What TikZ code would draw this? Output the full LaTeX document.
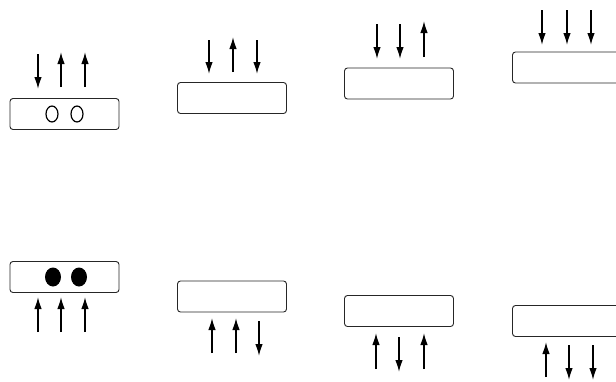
\documentclass[tikz,border=0pt]{standalone}
\usetikzlibrary{arrows.meta,shapes.geometric}
\begin{document}
\begin{tikzpicture}[x=1pt,y=-1pt,
  panel/.style={draw=black!85,line width=0.9pt,rounded corners=3pt,minimum width=109pt,minimum height=31pt,inner sep=0pt,fill=white},
  flow/.style={line width=1.4pt,-{Latex[length=12pt,width=7.5pt]}},
  hole/.style={draw,line width=1.2pt,ellipse,minimum width=12pt,minimum height=16pt,inner sep=0pt},
  dot/.style={fill,ellipse,minimum width=16pt,minimum height=19pt,inner sep=0pt}]
\useasboundingbox (0,0) rectangle (616,381);
\clip (0,0) rectangle (616,381);
% top row boxes
\node[panel] (b1) at (64.5,114) {};
\node[panel] (b2) at (232,98) {};
\node[panel] (b3) at (399,83.5) {};
\node[panel] (b4) at (567,67.5) {};
% bottom row boxes
\node[panel] (b5) at (64.5,277) {};
\node[panel] (b6) at (232,296.5) {};
\node[panel] (b7) at (399,311) {};
\node[panel] (b8) at (567,321) {};
% circles
\node[hole] (h1) at (52,114) {};
\node[hole] (h2) at (77,114) {};
\node[dot] (d1) at (53,277) {};
\node[dot] (d2) at (79,277) {};
% arrow end coordinates, top row
\coordinate (a1t) at (38,54);  \coordinate (a1b) at (38,89);
\coordinate (a2t) at (61,52);  \coordinate (a2b) at (61,87);
\coordinate (a3t) at (85,52);  \coordinate (a3b) at (85,87);
\coordinate (a4t) at (209,40); \coordinate (a4b) at (209,74);
\coordinate (a5t) at (233,37); \coordinate (a5b) at (233,72);
\coordinate (a6t) at (257,40); \coordinate (a6b) at (257,74);
\coordinate (a7t) at (377,24); \coordinate (a7b) at (377,59);
\coordinate (a8t) at (400,24); \coordinate (a8b) at (400,59);
\coordinate (a9t) at (424,21); \coordinate (a9b) at (424,57);
\coordinate (a10t) at (542,10); \coordinate (a10b) at (542,45);
\coordinate (a11t) at (567,10); \coordinate (a11b) at (567,45);
\coordinate (a12t) at (591,10); \coordinate (a12b) at (591,45);
\draw[flow] (a1t) -- (a1b);
\draw[flow] (a2b) -- (a2t);
\draw[flow] (a3b) -- (a3t);
\draw[flow] (a4t) -- (a4b);
\draw[flow] (a5b) -- (a5t);
\draw[flow] (a6t) -- (a6b);
\draw[flow] (a7t) -- (a7b);
\draw[flow] (a8t) -- (a8b);
\draw[flow] (a9b) -- (a9t);
\draw[flow] (a10t) -- (a10b);
\draw[flow] (a11t) -- (a11b);
\draw[flow] (a12t) -- (a12b);
% bottom row
\coordinate (c1t) at (38,297);  \coordinate (c1b) at (38,332);
\coordinate (c2t) at (61,297);  \coordinate (c2b) at (61,332);
\coordinate (c3t) at (85,297);  \coordinate (c3b) at (85,332);
\coordinate (c4t) at (212,318); \coordinate (c4b) at (212,353);
\coordinate (c5t) at (236,318); \coordinate (c5b) at (236,353);
\coordinate (c6t) at (259,321); \coordinate (c6b) at (259,356);
\coordinate (c7t) at (376,333); \coordinate (c7b) at (376,369);
\coordinate (c8t) at (399,337); \coordinate (c8b) at (399,372);
\coordinate (c9t) at (424,333); \coordinate (c9b) at (424,369);
\coordinate (c10t) at (546,342); \coordinate (c10b) at (546,377);
\coordinate (c11t) at (569,345); \coordinate (c11b) at (569,380);
\coordinate (c12t) at (593,345); \coordinate (c12b) at (593,380);
\draw[flow] (c1b) -- (c1t);
\draw[flow] (c2b) -- (c2t);
\draw[flow] (c3b) -- (c3t);
\draw[flow] (c4b) -- (c4t);
\draw[flow] (c5b) -- (c5t);
\draw[flow] (c6t) -- (c6b);
\draw[flow] (c7b) -- (c7t);
\draw[flow] (c8t) -- (c8b);
\draw[flow] (c9b) -- (c9t);
\draw[flow] (c10b) -- (c10t);
\draw[flow] (c11t) -- (c11b);
\draw[flow] (c12t) -- (c12b);
\end{tikzpicture}
\end{document}
